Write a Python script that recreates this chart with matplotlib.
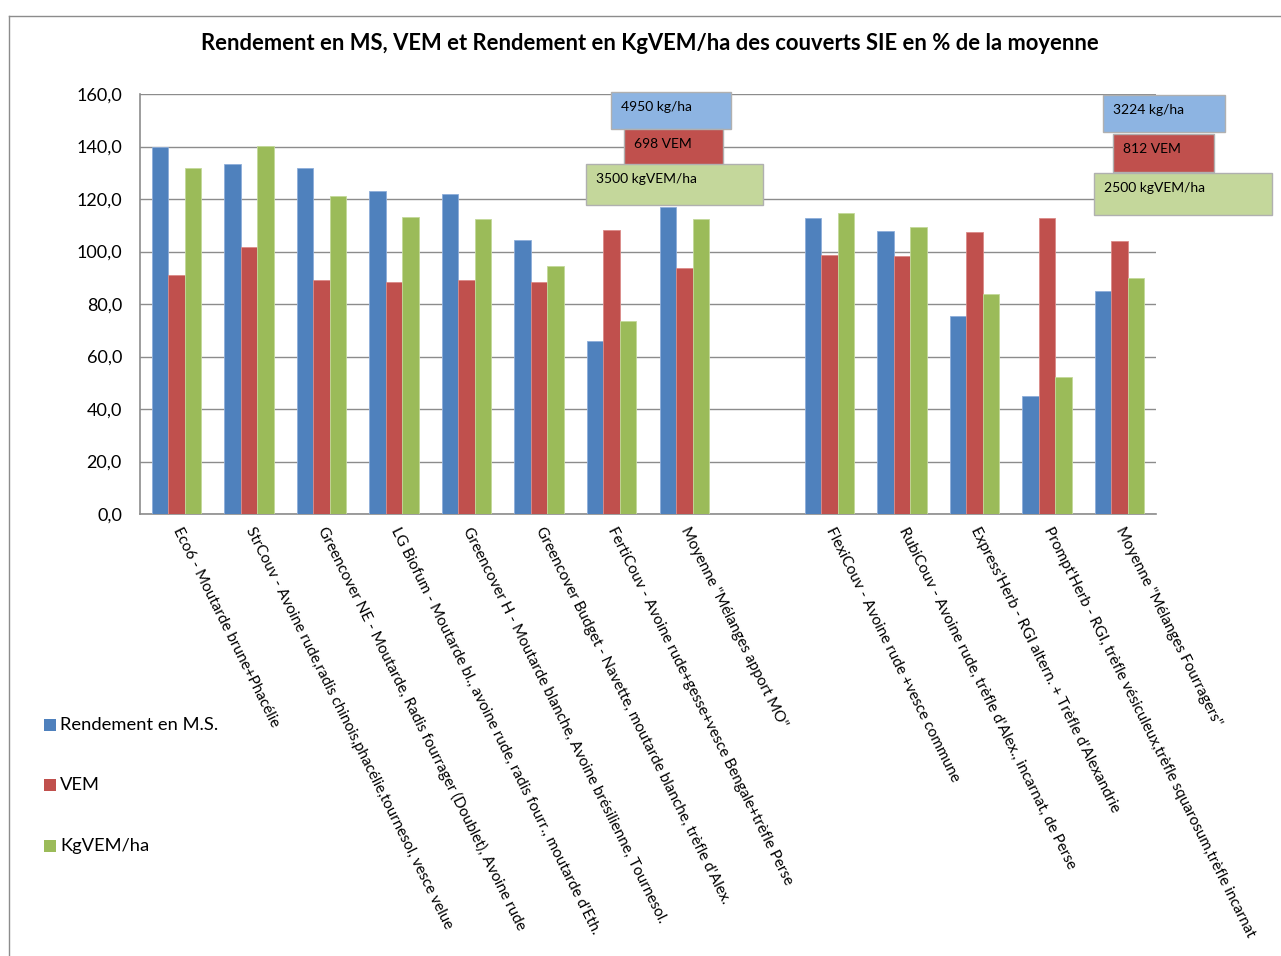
import numpy as np
import matplotlib
matplotlib.use("Agg")
import matplotlib.pyplot as plt
from matplotlib.patches import Rectangle
from matplotlib.lines import Line2D

plt.rcParams['font.family'] = ['Lato', 'DejaVu Sans']

categories = [
    "Eco6 - Moutarde brune+Phacélie",
    "StrCouv - Avoine rude,radis chinois,phacélie,tournesol, vesce velue",
    "Greencover NE - Moutarde, Radis fourrager (Doublet), Avoine rude",
    "LG Biofum - Moutarde bl., avoine rude, radis fourr., moutarde d'Eth.",
    "Greencover H - Moutarde blanche, Avoine brésilienne, Tournesol.",
    "Greencover Budget - Navette, moutarde blanche, trèfle d'Alex.",
    "FertiCouv - Avoine rude+gesse+vesce Bengale+trèfle Perse",
    "Moyenne \"Mélanges apport MO\"",
    "",
    "FlexiCouv - Avoine rude +vesce commune",
    "RubiCouv - Avoine rude, trèfle d'Alex., incarnat, de Perse",
    "Express'Herb - RGI altern. + Trèfle d'Alexandrie",
    "Prompt'Herb - RGI, trèfle vésiculeux,trèfle squarosum,trèfle incarnat",
    "Moyenne \"Mélanges Fourragers\"",
]
rendement_ms = [140.0, 133.5, 131.7, 123.2, 122.0, 104.2, 65.9, 117.1, None,
                112.6, 107.8, 75.3, 44.8, 85.1]
vem = [91.0, 101.7, 89.0, 88.3, 89.0, 88.4, 108.2, 93.6, None,
       98.8, 98.4, 107.3, 112.6, 104.1]
kgvem_ha = [131.7, 140.3, 121.1, 113.0, 112.2, 94.3, 73.7, 112.2, None,
            114.5, 109.3, 83.8, 52.1, 89.9]
series_names = ["Rendement en M.S.", "VEM", "KgVEM/ha"]
yticks = [0, 20, 40, 60, 80, 100, 120, 140, 160]
title = "Rendement en MS, VEM et Rendement en KgVEM/ha des couverts SIE en % de la moyenne"
box_texts_mo = ["4950 kg/ha", "698 VEM", "3500 kgVEM/ha"]
box_texts_fo = ["3224 kg/ha", "812 VEM", "2500 kgVEM/ha"]

colors = ["#4F81BD", "#C0504D", "#9BBB59"]
edges = ["#8EAEDA", "#DB8A88", "#C3D99A"]
box_colors = ["#8DB4E2", "#C0504D", "#C4D79B"]

W, H = 1281, 956
fig = plt.figure(figsize=(W / 100, H / 100), dpi=100)
fig.patch.set_facecolor("white")

def fx(px):
    return px / W

def fy(py):
    return (H - py) / H

ax = fig.add_axes([fx(140), fy(514), fx(1156) - fx(140), fy(94) - fy(514)])

x = np.arange(len(categories))
bw = 0.227
for i, (vals, c, e, name) in enumerate(zip([rendement_ms, vem, kgvem_ha], colors, edges, series_names)):
    v = np.array([np.nan if a is None else a for a in vals], dtype=float)
    ax.bar(x + (i - 1) * bw, v, width=bw, color=c, edgecolor=e, linewidth=0.6,
           label=name, zorder=3)

ax.set_xlim(-0.5, len(categories) - 0.5)
ax.set_ylim(0, 160)
ax.set_yticks(yticks)
ax.set_yticklabels([f"{t:.1f}".replace(".", ",") for t in yticks], fontsize=13)
ax.yaxis.grid(True, color="#8C8C8C", linewidth=1.0, zorder=0)
ax.set_axisbelow(True)
ax.tick_params(axis="y", length=0, pad=13, colors="black")
ax.tick_params(axis="x", length=0, pad=10)
ax.set_xticks(x)
ax.set_xticklabels(categories, rotation=-63.5, ha="left", va="center",
                   rotation_mode="anchor", fontsize=11)
for s in ["top", "right"]:
    ax.spines[s].set_visible(False)
for s in ["left", "bottom"]:
    ax.spines[s].set_color("#8C8C8C")
    ax.spines[s].set_linewidth(1.2)

fig.text(fx(650), fy(43), title, ha="center", va="center", fontsize=15.8,
         fontweight="bold")

# legend
leg_y = [725, 785, 846]
for c, name, yy in zip(colors, series_names, leg_y):
    fig.patches.append(Rectangle((fx(44), fy(yy + 6)), fx(12), 12 / H,
                                 transform=fig.transFigure, facecolor=c,
                                 edgecolor="none"))
    fig.text(fx(60), fy(yy), name, ha="left", va="center", fontsize=13.2)

# annotation boxes
def draw_box(x0, y0, x1, y1, fc, txt):
    fig.patches.append(Rectangle((fx(x0), fy(y1)), fx(x1 - x0), (y1 - y0) / H,
                                 transform=fig.transFigure, facecolor=fc,
                                 edgecolor="#B0B0B0", linewidth=1.0, zorder=5))
    fig.text(fx(x0 + 10), fy(y0 + 15), txt, ha="left", va="center",
             fontsize=10, zorder=6, color="black")

boxes_mo = [(611, 92, 731, 129), (624, 129, 723, 165), (586, 164, 763, 205)]
boxes_fo = [(1103, 95, 1225, 132), (1113, 134, 1214, 172), (1094, 173, 1272, 215)]
for (b, fc, t) in zip(boxes_mo, box_colors, box_texts_mo):
    draw_box(*b, fc, t)
for (b, fc, t) in zip(boxes_fo, box_colors, box_texts_fo):
    draw_box(*b, fc, t)

# chart area border (top and left visible)
fig.lines.append(Line2D([fx(9), fx(1281)], [fy(16), fy(16)], transform=fig.transFigure,
                        color="#8C8C8C", linewidth=1.0))
fig.lines.append(Line2D([fx(9), fx(9)], [fy(16), fy(956)], transform=fig.transFigure,
                        color="#8C8C8C", linewidth=1.0))

fig.savefig("out.png", dpi=100, facecolor="white")
